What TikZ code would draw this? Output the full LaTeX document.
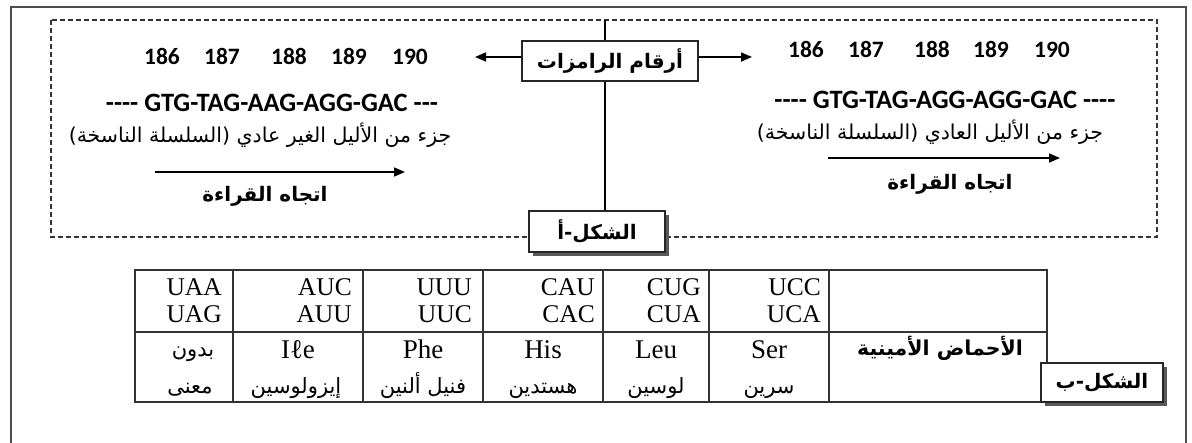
\documentclass[tikz,border=0pt]{standalone}
\usepackage{fontspec}
\setmainfont{Liberation Serif}
\newfontfamily\arfont[Script=Arabic]{DejaVu Sans}
\newfontfamily\calfont[Numbers=Lining]{Carlito}
\TeXXeTstate=1
\usetikzlibrary{arrows.meta,shadows}
\newcommand\AR[1]{\beginR #1\endR}
\begin{document}
\begin{tikzpicture}[x=1pt,y=-1pt,
  outerframe/.style={draw=black!70,line width=1.3pt},
  dbox/.style={draw=black!80,line width=1.3pt,dash pattern=on 5pt off 3pt},
  lbl/.style={draw=black!85,line width=1.1pt,fill=white,inner sep=0pt},
  shb/.style={lbl,drop shadow={shadow xshift=4pt,shadow yshift=-4pt,fill=black!65,opacity=1}},
  conn/.style={line width=1.3pt},
  arr/.style={line width=1.6pt,-{Triangle[length=11pt,width=9pt]}},
  num/.style={font=\calfont\bfseries\fontsize{23.5}{23.5}\selectfont,inner sep=0pt,anchor=base},
  seq/.style={font=\calfont\bfseries\fontsize{26.5}{26.5}\selectfont,inner sep=0pt},
  artx/.style={font=\arfont\fontsize{20.5}{20.5}\selectfont,inner sep=0pt},
  arb/.style={font=\arfont\bfseries\fontsize{20}{20}\selectfont,inner sep=0pt},
  boxfont/.style={font=\arfont\bfseries\fontsize{20}{20}\selectfont},
  tline/.style={draw=black!80,line width=1.3pt},
  codon/.style={font=\fontsize{25.5}{27}\selectfont,align=right,anchor=east,inner sep=0pt},
  amen/.style={font=\fontsize{27}{27}\selectfont,inner sep=0pt,anchor=base},
  amar/.style={font=\arfont\fontsize{21}{21}\selectfont,inner sep=0pt,anchor=base},
]
\useasboundingbox (0,0) rectangle (1192,443);
\fill[white] (0,0) rectangle (1192,443);
% outer frame
\draw[outerframe] (11,443) -- (11,7) -- (1186,7) -- (1186,443);
% dashed box
\draw[dbox] (51,20) rectangle (1157,237);
% central boxes
\node[lbl,boxfont,minimum width=176pt,minimum height=40pt] (codes) at (610,61) {\AR{أرقام الرامزات}};
\node[shb,boxfont,minimum width=136pt,minimum height=41pt] (fa) at (597,231.5) {\AR{الشكل-أ}};
\coordinate (ltop) at (605,20);
\draw[conn] (ltop) -- (ltop |- codes.north);
\draw[conn] (codes.south -| ltop) -- (ltop |- fa.north);
\coordinate (la) at (475,57);
\coordinate (ra) at (752,57);
\draw[arr] (codes.west |- la) -- (la);
\draw[arr] (codes.east |- ra) -- (ra);
% left part
\node[num] (l186) at (162,65) {186};
\node[num] (l187) at (222,65) {187};
\node[num] (l188) at (289,65) {188};
\node[num] (l189) at (349,65) {189};
\node[num] (l190) at (410,65) {190};
\node[seq] (lseq) at (272,103) {---- GTG-TAG-AAG-AGG-GAC ---};
\node[artx] (ldesc) at (260,135) {\AR{جزء من الأليل الغير عادي (السلسلة الناسخة)}};
\coordinate (lr1) at (155,172);
\coordinate (lr2) at (405,172);
\draw[arr] (lr1) -- (lr2);
\node[arb] (lread) at (265,196) {\AR{اتجاه القراءة}};
% right part
\node[num] (r186) at (806,58) {186};
\node[num] (r187) at (866,58) {187};
\node[num] (r188) at (932,58) {188};
\node[num] (r189) at (991,58) {189};
\node[num] (r190) at (1052,58) {190};
\node[seq] (rseq) at (945,100) {---- GTG-TAG-AGG-AGG-GAC ----};
\node[artx] (rdesc) at (930,132) {\AR{جزء من الأليل العادي (السلسلة الناسخة)}};
\coordinate (rr1) at (828,158);
\coordinate (rr2) at (1060,158);
\draw[arr] (rr1) -- (rr2);
\node[arb] (rread) at (950,184) {\AR{اتجاه القراءة}};
% table
\draw[tline] (135,270) rectangle (1047,402);
\draw[tline] (135,332) -- (1047,332);
\foreach \x in {233,363,483,603,709,829} \draw[tline] (\x,270) -- (\x,402);
\node[codon] (c1) at (222,301) {UAA\\UAG};
\node[codon] (c2) at (352,301) {AUC\\AUU};
\node[codon] (c3) at (472,301) {UUU\\UUC};
\node[codon] (c4) at (595,301) {CAU\\CAC};
\node[codon] (c5) at (701,301) {CUG\\CUA};
\node[codon] (c6) at (821,301) {UCC\\UCA};
\node[amar] (a1a) at (193,357) {\AR{بدون}};
\node[amar] (a1b) at (190,394) {\AR{معنى}};
\node[amen] (a2a) at (298,359) {Iℓe};
\node[amar] (a2b) at (296,394) {\AR{إيزولوسين}};
\node[amen] (a3a) at (423,359) {Phe};
\node[amar] (a3b) at (423,394) {\AR{فنيل ألنين}};
\node[amen] (a4a) at (543,359) {His};
\node[amar] (a4b) at (543,394) {\AR{هستدين}};
\node[amen] (a5a) at (656,359) {Leu};
\node[amar] (a5b) at (656,394) {\AR{لوسين}};
\node[amen] (a6a) at (769,359) {Ser};
\node[amar] (a6b) at (769,394) {\AR{سرين}};
\node[arb,font=\arfont\bfseries\fontsize{20.5}{20.5}\selectfont] (head) at (940,348) {\AR{الأحماض الأمينية}};
\node[shb,boxfont,minimum width=122pt,minimum height=39pt] (fb) at (1102,382.5) {\AR{الشكل-ب}};
\end{tikzpicture}
\end{document}
